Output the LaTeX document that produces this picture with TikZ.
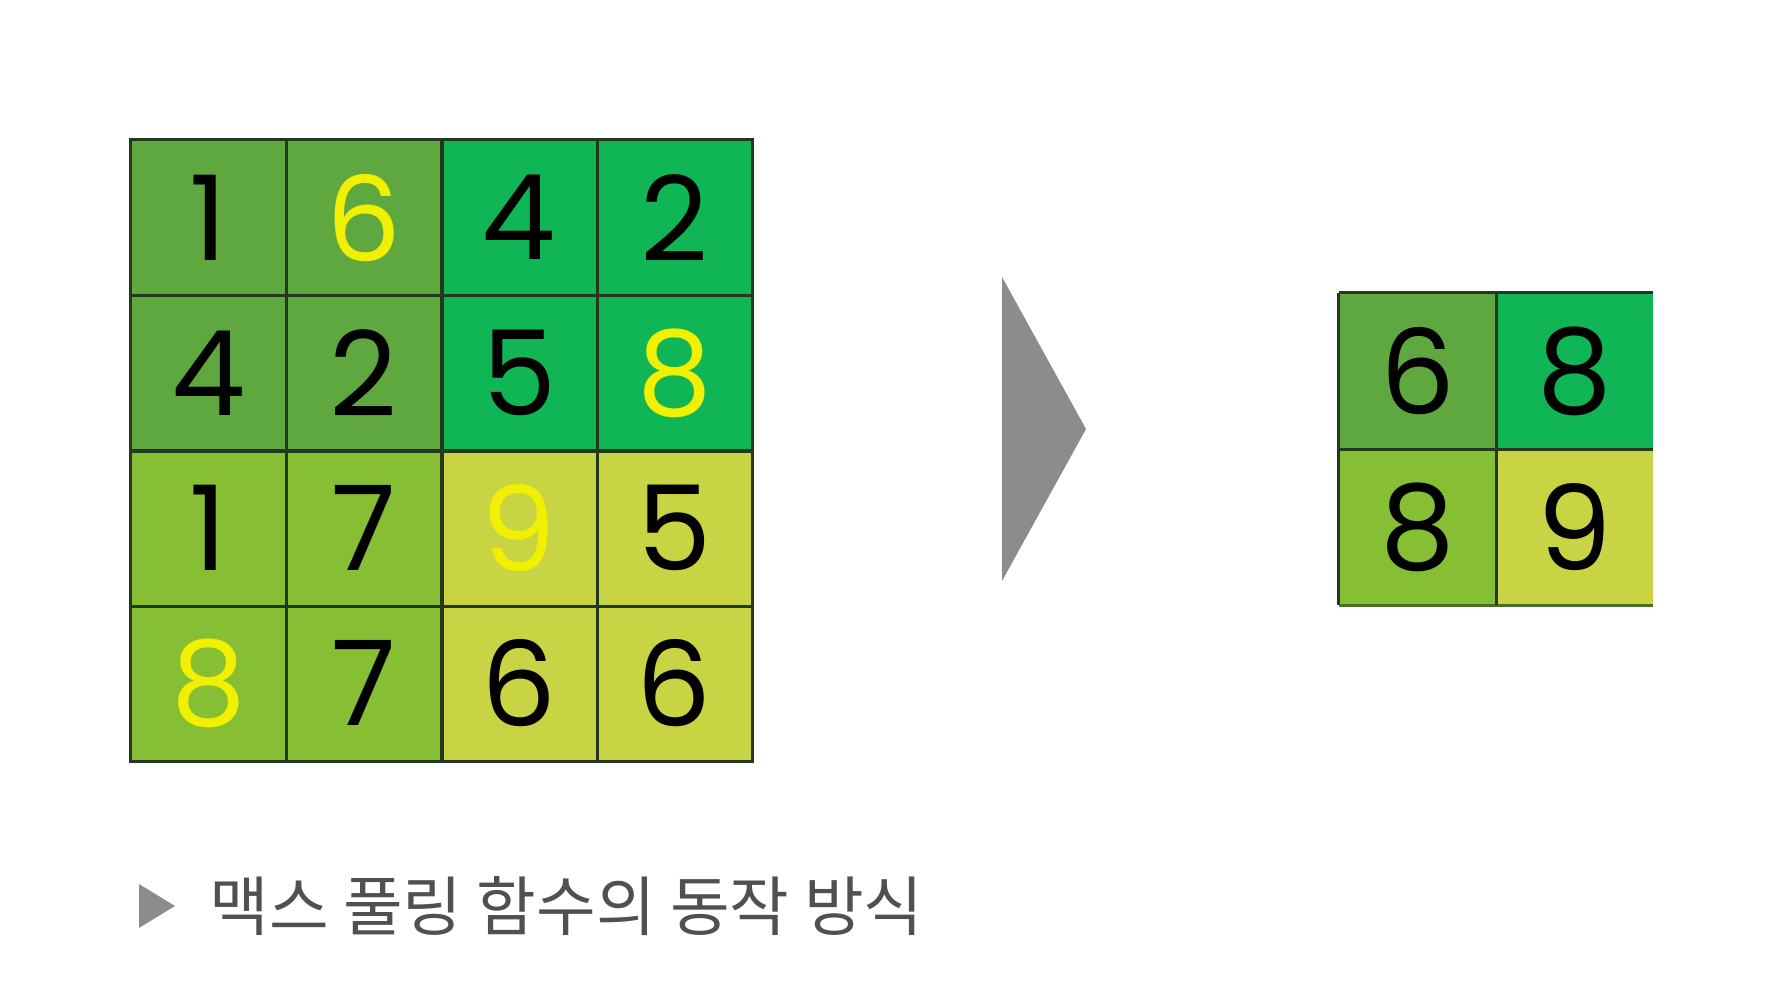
\documentclass[tikz,border=0pt]{standalone}
\usepackage{fontspec}
\newfontfamily\kr{Noto Sans CJK KR}
\newfontfamily\dg{Poppins}
\definecolor{gA}{HTML}{5FA83F}
\definecolor{gB}{HTML}{10B556}
\definecolor{gC}{HTML}{86BE34}
\definecolor{gD}{HTML}{C8D443}
\definecolor{gl}{HTML}{23381C}
\definecolor{hy}{HTML}{F0F000}
\definecolor{arr}{HTML}{8C8C8C}
\definecolor{cap}{HTML}{505050}
\tikzset{
  cell/.style={minimum width=77.6pt,minimum height=77.6pt,inner sep=0pt,
    font=\dg\fontsize{59}{59}\selectfont,text=black},
  scell/.style={cell,minimum width=78.5pt,minimum height=78pt},
  hl/.style={text=hy},
  gridline/.style={draw=gl,line width=1.6pt}
}
\begin{document}
\begin{tikzpicture}[x=0.5pt,y=-0.5pt]
\useasboundingbox (0,0) rectangle (1770,1000);
% large grid
\node[cell,fill=gA] (a11) at (208.6,217.6) {1};
\node[cell,fill=gA,hl] (a12) at (363.9,217.6) {6};
\node[cell,fill=gB] (a13) at (519.1,217.6) {4};
\node[cell,fill=gB] (a14) at (674.4,217.6) {2};
\node[cell,fill=gA] (a21) at (208.6,372.9) {4};
\node[cell,fill=gA] (a22) at (363.9,372.9) {2};
\node[cell,fill=gB] (a23) at (519.1,372.9) {5};
\node[cell,fill=gB,hl] (a24) at (674.4,372.9) {8};
\node[cell,fill=gC] (a31) at (208.6,528.1) {1};
\node[cell,fill=gC] (a32) at (363.9,528.1) {7};
\node[cell,fill=gD,hl] (a33) at (519.1,528.1) {9};
\node[cell,fill=gD] (a34) at (674.4,528.1) {5};
\node[cell,fill=gC,hl] (a41) at (208.6,683.4) {8};
\node[cell,fill=gC] (a42) at (363.9,683.4) {7};
\node[cell,fill=gD] (a43) at (519.1,683.4) {6};
\node[cell,fill=gD] (a44) at (674.4,683.4) {6};
\draw[gridline] (a11.north west) rectangle (a44.south east);
\foreach \c in {1,2,3}{
  \draw[gridline] (a1\c.north east) -- (a4\c.south east);
  \draw[gridline] (a\c1.south west) -- (a\c4.south east);
}
% arrow
\fill[arr] (1002,277) -- (1086,429) -- (1002,581) -- cycle;
% small grid
\node[scell,fill=gA] (b11) at (1417.5,371) {6};
\node[scell,fill=gB] (b12) at (1574.5,371) {8};
\node[scell,fill=gC] (b21) at (1417.5,527) {8};
\node[scell,fill=gD] (b22) at (1574.5,527) {9};
\draw[gridline] (b11.north west) -- (b12.north east);
\draw[gridline] (b11.north west) -- (b21.south west);
\draw[gridline,draw=gl!60!gC] (b21.south west) -- (b22.south east);
\draw[gridline] (b11.north east) -- (b21.south east);
\draw[gridline] (b11.south west) -- (b12.south east);
% caption
\fill[arr] (139,884) -- (175,906) -- (139,928) -- cycle;
\node[anchor=west,inner sep=0pt,text=cap,font=\kr\fontsize{32.4}{32.4}\selectfont] (caption) at (209,906) {맥스 풀링 함수의 동작 방식};
\end{tikzpicture}
\end{document}
